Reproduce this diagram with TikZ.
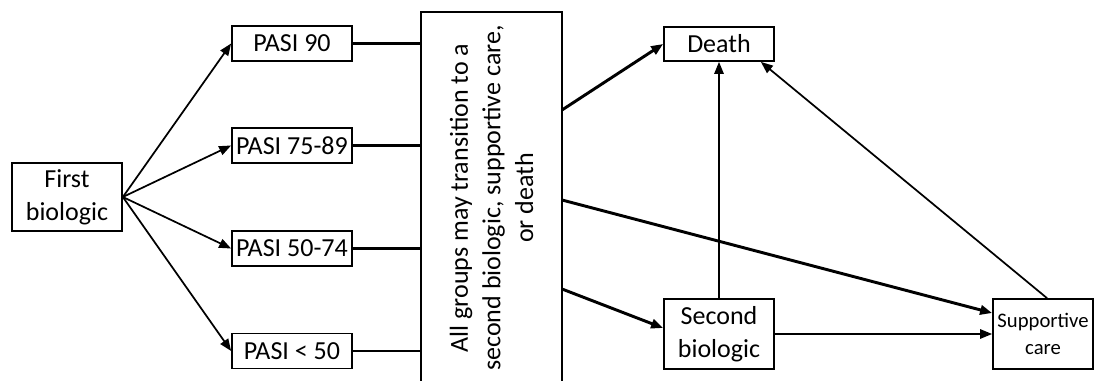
\documentclass[tikz,border=0pt]{standalone}
\usepackage{fontspec}
\setmainfont{Carlito}
\usetikzlibrary{arrows.meta,calc}
\begin{document}
\begin{tikzpicture}[x=0.75pt,y=-0.75pt,
  box/.style={draw,line width=1.3pt,inner sep=0pt,align=center,font=\fontsize{19.5}{24.5}\selectfont},
  thin/.style={line width=1.3pt,-{Triangle[length=9pt,width=7pt]}},
  thick/.style={line width=2.2pt,-{Triangle[length=9pt,width=7pt]}},
  bar/.style={line width=2.2pt}]
\useasboundingbox (0,0) rectangle (1094,381);
\node[box,minimum width=82.5pt,minimum height=51pt] (first) at (67,197) {First\\biologic};
\node[box,minimum width=90pt,minimum height=26.25pt] (p90) at (292,43.5) {PASI 90};
\node[box,minimum width=90pt,minimum height=26.25pt] (p75) at (292,145.5) {PASI 75-89};
\node[box,minimum width=90pt,minimum height=26.25pt] (p50) at (292,248.5) {PASI 50-74};
\node[box,minimum width=90pt,minimum height=26.25pt] (p00) at (292,351) {PASI < 50};
\node[box,minimum width=105.75pt,minimum height=283.5pt] (big) at (491.5,201) {};
\node[align=center,rotate=90,font=\fontsize{19.5}{24.5}\selectfont] (bigtext) at (491.5,198) {All groups may transition to a\\second biologic, supportive care,\\or death};
\node[box,minimum width=82.5pt,minimum height=25.5pt] (death) at (719,44) {Death};
\node[box,minimum width=82.5pt,minimum height=52.5pt] (sec) at (719,334) {Second\\biologic};
\node[box,minimum width=75pt,minimum height=52.5pt,font=\fontsize{15.5}{20}\selectfont] (supp) at (1043,334) {Supportive\\care};
\coordinate (src) at (first.east);
\draw[thin] (src) -- (p90.west);
\draw[thin] (src) -- (p75.west);
\draw[thin] (src) -- (p50.west);
\draw[thin] (src) -- (p00.west);
\draw[bar] (p90.east) -- (p90.east -| big.west);
\draw[bar] (p75.east) -- (p75.east -| big.west);
\draw[bar] (p50.east) -- (p50.east -| big.west);
\draw[bar] (p00.east) -- (p00.east -| big.west);
\coordinate (o1) at (562,110);
\coordinate (o2) at (562,200);
\coordinate (o3) at (562,289);
\draw[thick] (o1) -- (death.west);
\draw[thick] (o2) -- ([yshift=15.75pt]supp.west);
\draw[thick] (o3) -- ([yshift=4.5pt]sec.west);
\draw[thin] (sec.north) -- (death.south);
\draw[thin] (sec.east) -- (supp.west);
\draw[thin] ([xshift=3pt]supp.north) -- ([xshift=-10.5pt]death.south east);
\end{tikzpicture}
\end{document}
